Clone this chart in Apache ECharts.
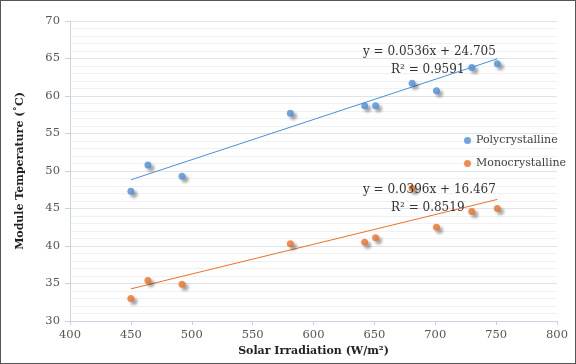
<!DOCTYPE html>
<html><head><meta charset="utf-8">
<script src="https://cdn.jsdelivr.net/npm/echarts@6/dist/echarts.min.js"></script>
<style>html,body{margin:0;padding:0;background:#fff}#c{width:576px;height:364px;box-sizing:border-box;border:1px solid #555}</style>
</head><body><div id="c"></div>
<script>
const irradiation = [450, 464, 492, 581, 642, 651, 681, 701, 730, 751];
const polyTemp = [47.3, 50.8, 49.3, 57.7, 58.7, 58.7, 61.7, 60.7, 63.8, 64.3];
const monoTemp = [33.0, 35.4, 34.9, 40.3, 40.5, 41.1, 47.7, 42.5, 44.6, 45.0];
const polyFit = {slope: 0.0536, intercept: 24.705, r2: '0.9591'};
const monoFit = {slope: 0.0396, intercept: 16.467, r2: '0.8519'};
const fitRange = [450, 751];
const seriesNames = ['Polycrystalline', 'Monocrystalline'];

const font = '"DejaVu Serif", "Liberation Serif", serif';
const blue = '#4A8FD6', orange = '#EB7124';
const pts = (ys) => irradiation.map((x, i) => [x, ys[i]]);
const fitPts = (f) => fitRange.map(x => [x, +(f.slope * x + f.intercept).toFixed(3)]);
const shadow = {shadowBlur: 3, shadowOffsetX: 3, shadowOffsetY: 3, shadowColor: 'rgba(0,0,0,0.45)'};

const chart = echarts.init(document.getElementById('c'), null, {renderer: 'canvas'});
chart.setOption({
  animation: false,
  grid: {left: 69, right: 18, top: 20, bottom: 42},
  legend: {
    orient: 'vertical', left: 458, top: 129, itemGap: 12,
    icon: 'circle', itemWidth: 7, itemHeight: 7,
    textStyle: {fontFamily: font, fontSize: 11, color: '#404040'},
    data: seriesNames
  },
  xAxis: {
    type: 'value', min: 400, max: 800, interval: 50,
    name: 'Solar Irradiation (W/m²)', nameLocation: 'middle', nameGap: 22,
    nameTextStyle: {fontFamily: font, fontSize: 11, fontWeight: 'bold', color: '#222'},
    axisLine: {lineStyle: {color: '#c9d2e3'}},
    axisTick: {show: true, length: 4, lineStyle: {color: '#c9d2e3'}},
    axisLabel: {fontFamily: font, fontSize: 11.5, color: '#555', margin: 8},
    splitLine: {show: false}
  },
  yAxis: {
    type: 'value', min: 30, max: 70, interval: 5,
    name: 'Module Temperature (˚C)', nameLocation: 'middle', nameGap: 44,
    nameTextStyle: {fontFamily: font, fontSize: 11, fontWeight: 'bold', color: '#222'},
    axisLine: {show: true, lineStyle: {color: '#c9d2e3'}},
    axisTick: {show: true, length: 5, lineStyle: {color: '#c9d2e3'}},
    axisLabel: {fontFamily: font, fontSize: 11.5, color: '#555', margin: 10},
    splitLine: {lineStyle: {color: '#dfe3ec'}},
    minorTick: {show: false, splitNumber: 5},
    minorSplitLine: {show: true, lineStyle: {color: '#eff1f5'}}
  },
  series: [
    {name: seriesNames[0], type: 'scatter', data: pts(polyTemp), symbolSize: 7,
     itemStyle: Object.assign({color: blue}, shadow), z: 3},
    {name: seriesNames[1], type: 'scatter', data: pts(monoTemp), symbolSize: 7,
     itemStyle: Object.assign({color: orange}, shadow), z: 3},
    {name: 'polyFit', type: 'line', data: fitPts(polyFit), symbol: 'none',
     lineStyle: {color: blue, width: 1}, z: 2},
    {name: 'monoFit', type: 'line', data: fitPts(monoFit), symbol: 'none',
     lineStyle: {color: orange, width: 1}, z: 2}
  ],
  graphic: [
    {type: 'text', left: 362, top: 45, z: 10, style: {text: 'y = ' + polyFit.slope + 'x + ' + polyFit.intercept, font: '12px ' + font, fill: '#333'}},
    {type: 'text', left: 390, top: 63, z: 10, style: {text: 'R² = ' + polyFit.r2, font: '12px ' + font, fill: '#333'}},
    {type: 'text', left: 362, top: 183, z: 10, style: {text: 'y = ' + monoFit.slope + 'x + ' + monoFit.intercept, font: '12px ' + font, fill: '#333'}},
    {type: 'text', left: 390, top: 201, z: 10, style: {text: 'R² = ' + monoFit.r2, font: '12px ' + font, fill: '#333'}}
  ]
});
</script></body></html>
